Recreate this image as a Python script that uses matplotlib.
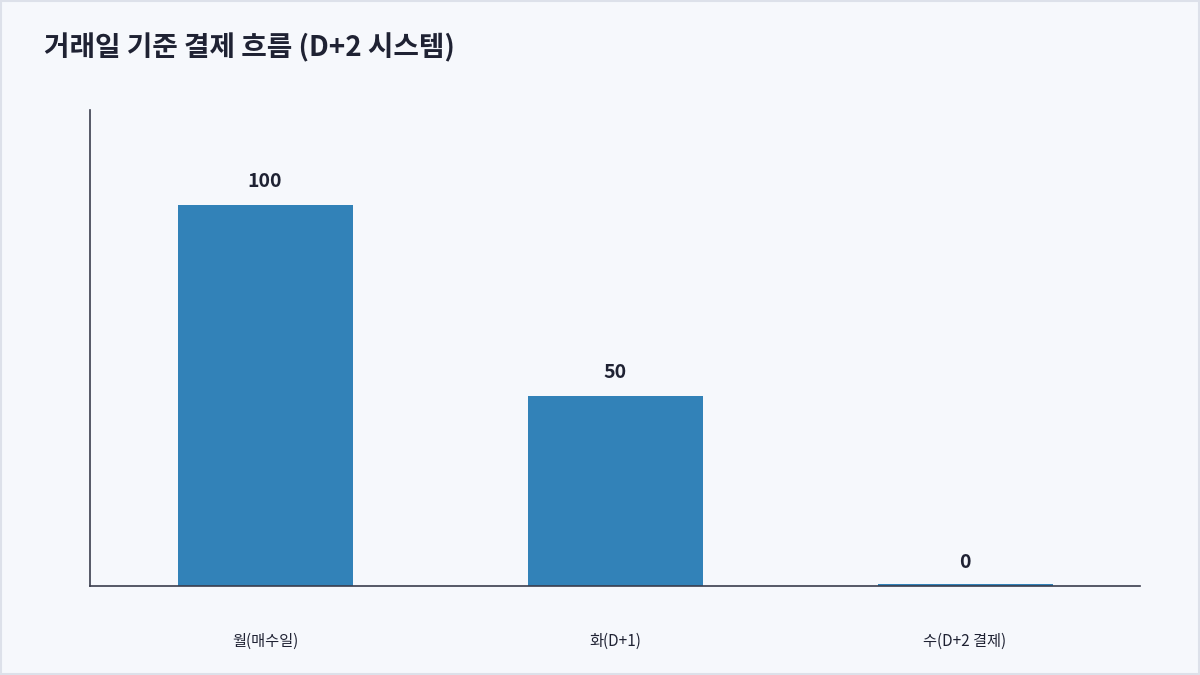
import matplotlib
matplotlib.use("Agg")
import matplotlib.pyplot as plt

categories = ["월(매수일)", "화(D+1)", "수(D+2 결제)"]
values = [100, 50, 0]
labels = ["100", "50", "0"]

plt.rcParams['font.family'] = ['Noto Sans CJK KR', 'DejaVu Sans']
fig = plt.figure(figsize=(12, 6.75), dpi=100)
fig.patch.set_facecolor("#f6f8fc")
ax = fig.add_axes([0.075, 0.132, 0.875, 0.705])
ax.set_facecolor("#f6f8fc")
x = range(len(categories))
ax.bar(x, [max(v, 0.4) for v in values], width=0.5, color="#3282b8")
for i, (v, l) in enumerate(zip(values, labels)):
    ax.annotate(l, (i, v), xytext=(0, 10), textcoords="offset points",
                ha="center", va="bottom", fontsize=14, fontweight="bold", color="#1f2233")
ax.set_xlim(-0.5, 2.5)
ax.set_ylim(0, 125)
ax.set_xticks(list(x))
ax.set_xticklabels(categories, fontsize=11, color="#1f2233")
ax.tick_params(axis="x", length=0, pad=34)
ax.set_yticks([])
for s in ["top", "right"]:
    ax.spines[s].set_visible(False)
for s in ["left", "bottom"]:
    ax.spines[s].set_color("#3a3d4d")
    ax.spines[s].set_linewidth(1.2)
fig.text(0.037, 0.93, "거래일 기준 결제 흐름 (D+2 시스템)", fontsize=20, fontweight="bold",
         color="#1f2233", va="center")
fig.add_artist(plt.Rectangle((0.001, 0.001), 0.998, 0.998, transform=fig.transFigure,
                             fill=False, edgecolor="#dde1ea", linewidth=1.5))
fig.savefig("out.png", dpi=100, facecolor=fig.get_facecolor())
